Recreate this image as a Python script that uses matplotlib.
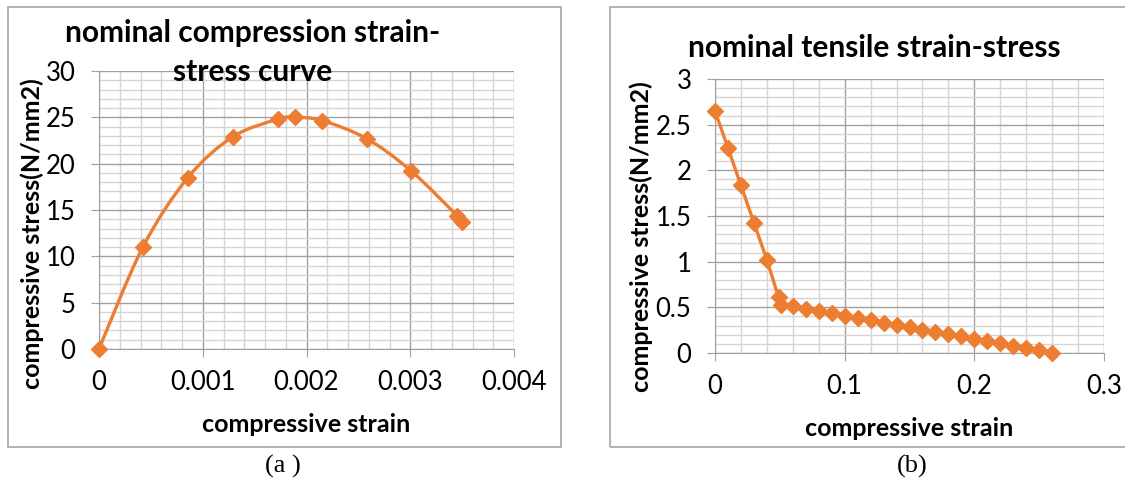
import numpy as np
import matplotlib
matplotlib.use("Agg")
import matplotlib.pyplot as plt
from matplotlib.path import Path
from matplotlib.patches import PathPatch, Rectangle
from matplotlib.ticker import MultipleLocator

plt.rcParams['font.family'] = ['Lato', 'DejaVu Sans']

# (a) nominal compression strain-stress
comp_strain = [0, 0.000423, 0.000857, 0.00129, 0.001725, 0.00189, 0.00215,
               0.00258, 0.00301, 0.00345, 0.0035]
comp_stress = [0, 11.0, 18.5, 22.9, 24.8, 25.0, 24.65, 22.7, 19.2, 14.4, 13.75]

# (b) nominal tensile strain-stress
tens_strain = [0, 0.01, 0.02, 0.03, 0.04, 0.049, 0.051, 0.06, 0.07, 0.08, 0.09,
               0.10, 0.11, 0.12, 0.13, 0.14, 0.15, 0.16, 0.17, 0.18, 0.19,
               0.20, 0.21, 0.22, 0.23, 0.24, 0.25, 0.26]
tens_stress = [2.65, 2.245, 1.836, 1.427, 1.02, 0.61, 0.53, 0.518, 0.48, 0.456,
               0.434, 0.409, 0.383, 0.358, 0.332, 0.307, 0.281, 0.255, 0.23,
               0.208, 0.182, 0.157, 0.131, 0.106, 0.08, 0.055, 0.033, 0.0]

orange = '#ED7D31'
W, H = 1125, 484
fig = plt.figure(figsize=(W / 100, H / 100), dpi=100)

def px(x, y):
    return x / W, 1 - y / H

# chart frames
fig.patches.append(Rectangle(px(8, 447), 553 / W, 440 / H, transform=fig.transFigure,
                             fill=False, edgecolor='#a6a6a6', lw=1.2))
fig.patches.append(Rectangle(px(610, 447), 530 / W, 440 / H, transform=fig.transFigure,
                             fill=False, edgecolor='#a6a6a6', lw=1.2))

def style(ax, xmaj, xmin, ymaj, ymin):
    ax.xaxis.set_major_locator(MultipleLocator(xmaj))
    ax.xaxis.set_minor_locator(MultipleLocator(xmin))
    ax.yaxis.set_major_locator(MultipleLocator(ymaj))
    ax.yaxis.set_minor_locator(MultipleLocator(ymin))
    ax.grid(which='major', color='#a0a0a0', lw=1.0)
    ax.grid(which='minor', color='#d4d4d4', lw=1.0)
    ax.set_axisbelow(True)
    for s in ['top', 'right']:
        ax.spines[s].set_visible(False)
    for s in ['left', 'bottom']:
        ax.spines[s].set_color('#a0a0a0')
    ax.tick_params(which='major', length=6, color='#a0a0a0', labelsize=18.5)
    ax.tick_params(axis='y', pad=11)
    ax.tick_params(axis='x', pad=9)
    ax.tick_params(which='minor', length=0)

def fmt(v, pos):
    return ('%g' % v)

# ---- (a)
ax1 = fig.add_axes([99 / W, 1 - 349 / H, 415 / W, 278 / H])
ax1.set_xlim(0, 0.004)
ax1.set_ylim(0, 30)
style(ax1, 0.001, 0.0002, 5, 1)
ax1.xaxis.set_major_formatter(fmt)
ax1.yaxis.set_major_formatter(fmt)

# smoothed line through points (cubic bezier, catmull-rom style)
x = np.array(comp_strain); y = np.array(comp_stress)
verts = [(x[0], y[0])]
codes = [Path.MOVETO]
n = len(x)
for i in range(n - 1):
    i0 = max(i - 1, 0); i3 = min(i + 2, n - 1)
    c1 = (x[i] + (x[i + 1] - x[i0]) / 6, y[i] + (y[i + 1] - y[i0]) / 6)
    c2 = (x[i + 1] - (x[i3] - x[i]) / 6, y[i + 1] - (y[i3] - y[i]) / 6)
    verts += [c1, c2, (x[i + 1], y[i + 1])]
    codes += [Path.CURVE4] * 3
ax1.add_patch(PathPatch(Path(verts, codes), fill=False, edgecolor=orange, lw=2.4,
                        clip_on=False, zorder=3))
ax1.plot(comp_strain, comp_stress, ls='none', marker='D', ms=8.5, color=orange,
         clip_on=False, zorder=4)

fig.text(*px(253, 33), 'nominal compression strain-', ha='center', va='center',
         fontsize=21.5, fontweight='bold')
fig.text(*px(253, 72), 'stress curve', ha='center', va='center',
         fontsize=21.5, fontweight='bold', zorder=5)
fig.text(*px(306, 424), 'compressive strain', ha='center', va='center',
         fontsize=18, fontweight='bold')
fig.text(*px(32, 234), 'compressive stress(N/mm2)', ha='center', va='center',
         rotation=90, fontsize=18, fontweight='bold')

# ---- (b)
ax2 = fig.add_axes([715 / W, 1 - 353 / H, 389 / W, 274 / H])
ax2.set_xlim(0, 0.3)
ax2.set_ylim(0, 3)
style(ax2, 0.1, 0.02, 0.5, 0.1)
ax2.xaxis.set_major_formatter(fmt)
ax2.yaxis.set_major_formatter(fmt)
ax2.plot(tens_strain, tens_stress, color=orange, lw=2.4, marker='D', ms=8.5,
         clip_on=False, zorder=4)

fig.text(*px(874, 48), 'nominal tensile strain-stress', ha='center', va='center',
         fontsize=21.5, fontweight='bold')
fig.text(*px(909, 428), 'compressive strain', ha='center', va='center',
         fontsize=18, fontweight='bold')
fig.text(*px(641, 237), 'compressive stress(N/mm2)', ha='center', va='center',
         rotation=90, fontsize=18, fontweight='bold')

# captions
fig.text(*px(283, 466), '(a )', ha='center', va='center', fontsize=19,
         family='Liberation Serif')
fig.text(*px(912, 466), '(b)', ha='center', va='center', fontsize=19,
         family='Liberation Serif')

fig.savefig('out.png', dpi=100)
